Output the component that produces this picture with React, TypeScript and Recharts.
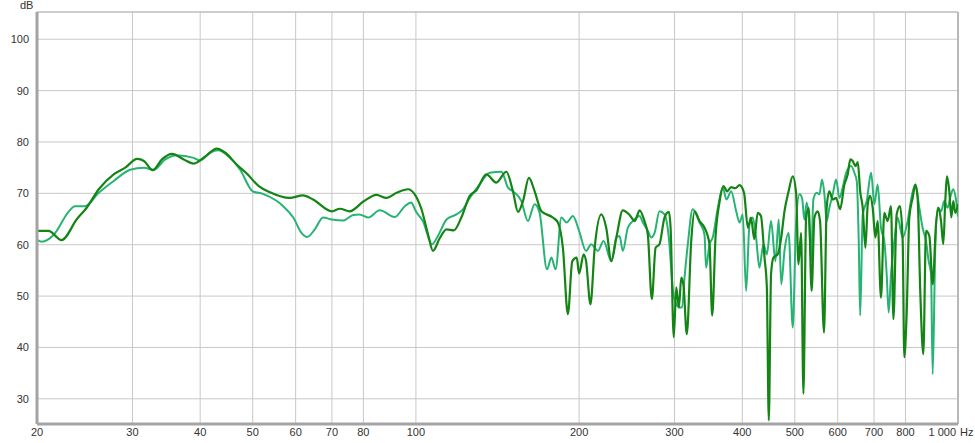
import { LineChart, Line, XAxis, YAxis, CartesianGrid, ReferenceLine } from 'recharts';

// frequency response, two measurements (Hz / dB)
const freqDark = [
  20, 21, 22.2, 23.7, 24.7, 26, 27.7, 29.1, 30.6, 31.5, 32.7, 34, 35.5, 37.3, 38.9, 40.9, 42.9, 44.5, 46.7, 48.8,
  51.3, 53.8, 58.5, 61.9, 64.6, 70, 72.4, 75.5, 80, 84.6, 88.2, 92.1, 96.7, 99.5, 102.4, 105.3, 107.5, 110.7, 113.9, 117.5,
  121.3, 125.7, 129.3, 134.9, 140.7, 146.8, 151, 154.3, 157.6, 161.6, 165.6, 170.4, 178.9, 182.8, 186.7, 190.7, 194.3, 198, 200, 203.9,
  206, 209.9, 213.7, 219.8, 224.4, 229.4, 234.3, 240.8, 247.8, 253.3, 258.6, 264, 267.8, 272.4, 276.8, 281.4, 287.5, 292.8, 295, 299,
  302.2, 305.6, 308.7, 311.7, 316, 322, 326.7, 333.6, 340.7, 348, 352, 357, 363, 369.4, 375, 381.6, 388, 395.4, 403, 409.6,
  415, 421, 427, 433, 439.6, 444, 447.7, 452, 456.6, 465, 472, 478.5, 487, 495.6, 502.8, 507.8, 513.6, 518.6, 524.6, 530.4,
  537, 543.4, 551, 556.6, 566, 572.4, 579, 587.4, 595.8, 606, 617.2, 626, 633, 639.4, 646.8, 653.2, 660, 667.2, 674.8, 681.6,
  688.4, 696, 704, 710.8, 721, 731.2, 741.6, 752.4, 760, 770.6, 781.8, 790.6, 796, 804, 813.2, 824.8, 834.4, 842.4, 852.2, 863,
  873, 885.4, 898, 910.8, 921, 930.4, 939.4, 947.4, 954, 963.8, 972, 980.2, 988.6, 1000,
];
const dbDark = [
  62.7, 62.7, 60.9, 65, 67.2, 70.8, 73.7, 75, 76.7, 76.3, 74.5, 76.6, 77.7, 76.6, 75.8, 77.2, 78.7, 77.9, 75.6, 73.8,
  71.4, 70.2, 69.1, 69.6, 68.8, 66.5, 67, 66.5, 68.4, 69.7, 69.1, 70.1, 70.8, 69.8, 66.9, 62, 58.8, 61.3, 63, 62.8,
  65.3, 69.5, 70.6, 73.7, 72.1, 74.2, 70.4, 66.4, 68.5, 73, 70.4, 66.5, 65.3, 64.3, 59.4, 46.5, 56.8, 57.5, 54.4, 58.1,
  56.8, 48.4, 59.4, 65.9, 63.3, 56.8, 61.4, 66.7, 65.8, 64.6, 66.7, 64.6, 62, 49.4, 59.4, 60.1, 65.3, 66.4, 63.3, 42,
  51.7, 47.8, 53.6, 52, 42.6, 60.7, 66.5, 64.6, 63.3, 60.1, 46.2, 61.4, 68.2, 71.4, 70.4, 71.2, 71, 71.6, 70.1, 63.3,
  65.3, 61.1, 66.2, 65.6, 57.5, 51.7, 25.8, 54.3, 57.5, 58.1, 61.4, 66.5, 70.4, 73.3, 70, 56.2, 62.3, 31, 65.3, 67.2,
  51, 65.3, 66.5, 64.6, 42.9, 67.2, 70.4, 68.8, 69.1, 66.9, 71.7, 73.7, 76.6, 76.3, 75.3, 76.1, 70.4, 67.2, 59.4, 67.9,
  69.5, 67.2, 61.4, 64.6, 49.7, 66.2, 64.6, 67.5, 45.5, 65.9, 67.5, 60.7, 38.1, 46.5, 65.3, 69.1, 71.7, 69.1, 50.4, 38.7,
  62.7, 61.7, 52.3, 63.9, 67.2, 64.6, 60.1, 68.5, 73.3, 70.4, 65.3, 68.5, 66.2, 67.9,
];

const freqLight = [
  20, 20.4, 21.5, 22.9, 23.5, 24.5, 26, 27.7, 29.7, 31.5, 32.8, 34.5, 36.2, 38.9, 40, 41.7, 43.2, 45.1, 47.4, 50,
  52.2, 55.4, 56.9, 59.4, 61.5, 63, 65.1, 67.4, 70, 73.4, 76.6, 78.6, 81.6, 85.8, 91.4, 95.4, 98.1, 99, 100, 103,
  107.1, 109.8, 113.9, 118.8, 122.1, 125.7, 131, 136.8, 143.8, 147.9, 151, 156.5, 160.9, 165.6, 169.1, 174.5, 177.8, 181, 185.5, 189.6,
  194.8, 200, 206, 210.6, 216.6, 221.9, 229.4, 234.3, 237.5, 240.8, 246, 251.4, 258.6, 262.2, 267.8, 271.8, 275.6, 281.4, 287.5, 292.8,
  298, 302.2, 306.4, 309.8, 313, 317.4, 324, 333.6, 340.7, 343, 348, 352.8, 360.6, 368.2, 374, 381.6, 389.8, 395.4, 400.8, 406.6,
  412.4, 418.2, 424.2, 430.2, 437.6, 444, 452, 460.4, 467, 472, 478.5, 487, 495.6, 502.8, 510, 515.6, 520.8, 526, 532, 535.8,
  541, 548.8, 555, 561.4, 567, 572.4, 579, 587.4, 595.8, 604.2, 612.8, 621.8, 635, 644, 650.4, 656, 660, 667.2, 678.6, 691.4,
  701, 710.8, 721, 731.2, 738.6, 745, 752.4, 763, 773.6, 790.6, 807.4, 822.8, 834.4, 848.4, 860.4, 873, 882.8, 891.8, 898, 908,
  917, 930.4, 943.4, 956.8, 970.8, 980.2, 991.4, 1000,
];
const dbLight = [
  61, 60.6, 62, 66.5, 67.5, 67.5, 70.1, 72.4, 74.6, 75, 74.6, 76.6, 77.4, 76.9, 76.4, 77.9, 78.4, 77.2, 74.6, 70.4,
  69.9, 68.5, 67.5, 65.3, 62.3, 61.5, 63, 65.3, 64.9, 64.7, 65.8, 65.9, 65.3, 66.7, 65.4, 67.5, 68.2, 67.5, 66.5, 64.6,
  60.1, 61.7, 64.9, 65.9, 66.9, 69.1, 71.7, 74, 74.2, 71.1, 70.4, 68.5, 64.6, 67.9, 66.2, 55.2, 57.5, 55.2, 65.3, 64.3,
  65.6, 62.7, 58.8, 60.1, 58.8, 60.7, 56.8, 61.4, 61.7, 58.8, 63.3, 64.6, 65.6, 64.3, 62.7, 61.4, 62.3, 66.5, 65.9, 61.4,
  51, 48.4, 47.8, 47.8, 53.6, 60.1, 66.9, 64.3, 62, 55.5, 60.1, 61.4, 67.2, 71.1, 68.8, 70.4, 66.5, 64.3, 65.9, 51,
  63.9, 65.3, 61.4, 55.5, 60.1, 58.1, 64.6, 56.8, 64.9, 52.3, 58.8, 62.3, 43.9, 64.5, 69.8, 69.1, 64.9, 68.2, 63.3, 56.8,
  68.8, 70.1, 69.8, 72.7, 69.8, 64.6, 67.2, 69.8, 72.7, 69.1, 71.1, 74, 75.3, 74, 72.4, 60.7, 46.2, 65.9, 68.5, 74,
  67.9, 71.7, 63.3, 60.7, 54.3, 46.8, 54.3, 60.7, 65.3, 61.4, 64.6, 69.8, 71.7, 67.2, 63.3, 60.7, 56.8, 54.3, 34.8, 59.4,
  67.2, 66.5, 68.5, 67.2, 69.8, 70.8, 68.8, 65.5,
];

const xTicks = [20, 30, 40, 50, 60, 70, 80, 90, 100, 200, 300, 400, 500, 600, 700, 800, 900, 1000];
const yTicks = [30, 40, 50, 60, 70, 80, 90, 100];

const darkData = freqDark.map((f, i) => ({ f, db: dbDark[i] }));
const lightData = freqLight.map((f, i) => ({ f, db: dbLight[i] }));

const FONT = '"Liberation Sans", Arial, sans-serif';

function FreqTick(props: any) {
  const { x, y, payload } = props;
  const v = payload.value;
  if (v === 1000) {
    return (
      <g>
        <text x={x - 2} y={y + 4} textAnchor="end" fontSize={11} fontFamily={FONT} fill="#333">1 000</text>
        <text x={x + 2} y={y + 4} textAnchor="start" fontSize={11} fontFamily={FONT} fill="#333">Hz</text>
      </g>
    );
  }
  return (
    <text x={x} y={y + 4} textAnchor="middle" fontSize={11} fontFamily={FONT} fill="#333">{v}</text>
  );
}

export default function App() {
  return (
    <div style={{ position: 'absolute', left: 0, top: 0, width: 975, height: 443, background: '#fff' }}>
      <div style={{ position: 'absolute', left: 20, top: 0, fontSize: 11, lineHeight: '11px', fontFamily: FONT, color: '#333' }}>dB</div>
      <LineChart
        width={975}
        height={443}
        margin={{ top: 12, right: 17, left: 0, bottom: 0 }}
      >
        <CartesianGrid stroke="#c8c8c8" strokeWidth={1} />
        <XAxis
          type="number"
          dataKey="f"
          scale="log"
          domain={[20, 1000]}
          ticks={xTicks}
          allowDataOverflow
          height={19}
          tickLine={false}
          axisLine={{ stroke: '#a4a4a4', strokeWidth: 3 }}
          tick={<FreqTick />}
        />
        <YAxis
          type="number"
          domain={[25.1, 105.3]}
          ticks={yTicks}
          allowDataOverflow
          width={37}
          tickLine={false}
          axisLine={{ stroke: '#a4a4a4', strokeWidth: 3 }}
          tick={{ fontSize: 11, fontFamily: FONT, fill: '#333' }}
        />
        <ReferenceLine y={105.3} stroke="#b8b8b8" />
        <ReferenceLine x={1000} stroke="#b8b8b8" strokeWidth={2} />
        <Line
          data={lightData}
          dataKey="db"
          type="monotone"
          stroke="#27b373"
          strokeWidth={2}
          dot={false}
          isAnimationActive={false}
        />
        <Line
          data={darkData}
          dataKey="db"
          type="monotone"
          stroke="#148414"
          strokeWidth={2.2}
          dot={false}
          isAnimationActive={false}
        />
      </LineChart>
    </div>
  );
}
